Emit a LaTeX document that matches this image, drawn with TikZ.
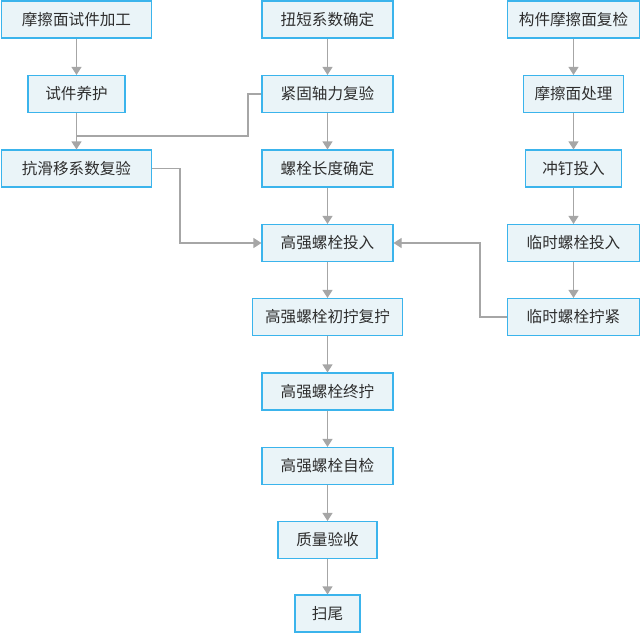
\documentclass[tikz,border=0pt]{standalone}
\usepackage{fontspec}
\setmainfont{Noto Sans CJK SC}
\usetikzlibrary{arrows.meta}
\definecolor{boxfill}{HTML}{EAF4F8}
\definecolor{boxline}{HTML}{3BB4EC}
\definecolor{conn}{HTML}{A6A6A6}
\definecolor{txt}{HTML}{2E2E2E}
\tikzset{
  stepbox/.style={draw=boxline, fill=boxfill, line width=1.1pt, text=txt,
    minimum height=37pt, inner sep=0pt, font=\fontsize{15.6}{18}\selectfont},
  flow/.style={draw=conn, line width=1.1pt, -{Triangle[length=8pt,width=10pt]}},
  plain/.style={draw=conn, line width=1.1pt}
}
\begin{document}
\begin{tikzpicture}[x=1pt,y=-1pt]
\useasboundingbox (0,0) rectangle (640,632);
% left column
\node[stepbox, minimum width=150pt] (a1) at (76.5,19.5) {摩擦面试件加工};
\node[stepbox, minimum width=97pt]  (a2) at (76.5,94) {试件养护};
\node[stepbox, minimum width=150pt] (a3) at (76.5,168.5) {抗滑移系数复验};
% middle column
\node[stepbox, minimum width=131pt] (b1) at (327.5,19.5) {扭短系数确定};
\node[stepbox, minimum width=131pt] (b2) at (327.5,94) {紧固轴力复验};
\node[stepbox, minimum width=131pt] (b3) at (327.5,168.5) {螺栓长度确定};
\node[stepbox, minimum width=131pt] (b4) at (327.5,243) {高强螺栓投入};
\node[stepbox, minimum width=150pt] (b5) at (327.5,317) {高强螺栓初拧复拧};
\node[stepbox, minimum width=131pt] (b6) at (327.5,391.5) {高强螺栓终拧};
\node[stepbox, minimum width=131pt] (b7) at (327.5,466) {高强螺栓自检};
\node[stepbox, minimum width=99pt]  (b8) at (327.5,540) {质量验收};
\node[stepbox, minimum width=65pt]  (b9) at (327.5,613.5) {扫尾};
% right column
\node[stepbox, minimum width=132pt] (c1) at (573.5,19.5) {构件摩擦面复检};
\node[stepbox, minimum width=100pt] (c2) at (573.5,94) {摩擦面处理};
\node[stepbox, minimum width=96pt]  (c3) at (573.5,168.5) {冲钉投入};
\node[stepbox, minimum width=132pt] (c4) at (573.5,243) {临时螺栓投入};
\node[stepbox, minimum width=132pt] (c5) at (573.5,317) {临时螺栓拧紧};
% junction
\coordinate (j1) at (76.5,136);
% connectors
\draw[flow] (a1) -- (a2);
\draw[flow] (a2) -- (a3);
\draw[plain] (b2.west) -| (248,136) -- (j1);
\draw[flow] (a3.east) -- (180,168.5) |- (b4.west);
\draw[flow] (b1) -- (b2);
\draw[flow] (b2) -- (b3);
\draw[flow] (b3) -- (b4);
\draw[flow] (b4) -- (b5);
\draw[flow] (b5) -- (b6);
\draw[flow] (b6) -- (b7);
\draw[flow] (b7) -- (b8);
\draw[flow] (b8) -- (b9);
\draw[flow] (c1) -- (c2);
\draw[flow] (c2) -- (c3);
\draw[flow] (c3) -- (c4);
\draw[flow] (c4) -- (c5);
\draw[flow] (c5.west) -- (480,317) |- (b4.east);
\end{tikzpicture}
\end{document}
